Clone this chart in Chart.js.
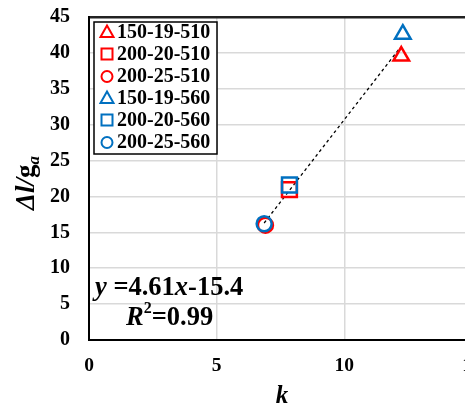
<!DOCTYPE html>
<html>
<head>
<meta charset="utf-8">
<script src="https://cdn.jsdelivr.net/npm/chart.js@4/dist/chart.umd.min.js"></script>
<style>
  html, body { margin: 0; padding: 0; background: #fff; overflow: hidden; }
  #wrap { width: 465px; height: 406px; overflow: hidden; }
  canvas { display: block; }
</style>
</head>
<body>
<div id="wrap"><canvas id="chart" width="485" height="406"></canvas></div>
<script>
// Datos
const seriesNames = ['150-19-510', '200-20-510', '200-25-510', '150-19-560', '200-20-560', '200-25-560'];
const kValues = [12.23, 7.85, 6.91, 12.29, 7.85, 6.86];
const dlValues = [39.55, 20.96, 16.0, 42.6, 21.6, 16.2];
const trendK = [6.86, 12.2];
const trendDl = [16.3, 40.8];
const xTicks = [0, 5, 10, 15];
const yTicks = [0, 5, 10, 15, 20, 25, 30, 35, 40, 45];

const colores = ['#ff0000', '#ff0000', '#ff0000', '#0070c0', '#0070c0', '#0070c0'];
const formas = ['triangle', 'rect', 'circle', 'triangle', 'rect', 'circle'];
const radios = { triangle: 9, rect: 10.5, circle: 7.5 };
const FONT = "'Liberation Serif', 'Times New Roman', serif";

const datasets = seriesNames.map((name, i) => ({
  label: name,
  data: [{ x: kValues[i], y: dlValues[i] }],
  pointStyle: formas[i],
  pointRadius: radios[formas[i]],
  pointBorderWidth: 2.5,
  pointBorderColor: colores[i],
  pointBackgroundColor: 'rgba(0,0,0,0)',
  showLine: false,
  order: i < 3 ? 2 : 1
}));

datasets.push({
  label: 'trend',
  data: trendK.map((k, i) => ({ x: k, y: trendDl[i] })),
  showLine: true,
  borderColor: '#000',
  borderWidth: 1.3,
  borderDash: [3, 3],
  pointRadius: 0,
  order: 3
});

// Leyenda y textos dibujados a mano
const textosPlugin = {
  id: 'textos',
  afterDraw(chart) {
    const ctx = chart.ctx;
    ctx.save();

    // Cuadro de leyenda
    const bx = 94, by = 22, bw = 123, bh = 132;
    ctx.fillStyle = '#fff';
    ctx.fillRect(bx, by, bw, bh);
    ctx.strokeStyle = '#000';
    ctx.lineWidth = 1.5;
    ctx.strokeRect(bx, by, bw, bh);

    seriesNames.forEach((name, i) => {
      const cy = 32 + i * 22;
      const cx = 107;
      ctx.strokeStyle = colores[i];
      ctx.lineWidth = 2;
      ctx.beginPath();
      if (formas[i] === 'triangle') {
        ctx.moveTo(cx, cy - 6.5);
        ctx.lineTo(cx + 6.5, cy + 5);
        ctx.lineTo(cx - 6.5, cy + 5);
        ctx.closePath();
      } else if (formas[i] === 'rect') {
        ctx.rect(cx - 5.5, cy - 5.5, 11, 11);
      } else {
        ctx.arc(cx, cy + 0.5, 5.5, 0, Math.PI * 2);
      }
      ctx.stroke();
      ctx.fillStyle = '#000';
      ctx.font = 'bold 20px ' + FONT;
      ctx.textBaseline = 'middle';
      ctx.textAlign = 'left';
      ctx.fillText(name, 117, cy + 1);
    });

    // Ecuación
    ctx.fillStyle = '#000';
    ctx.textBaseline = 'alphabetic';
    let x = 95;
    const partes = [['y', true], [' =4.61', false], ['x', true], ['-15.4', false]];
    partes.forEach(([t, it]) => {
      ctx.font = (it ? 'italic ' : '') + 'bold 26.5px ' + FONT;
      ctx.fillText(t, x, 295);
      x += ctx.measureText(t).width;
    });
    x = 126;
    ctx.font = 'italic bold 26.5px ' + FONT;
    ctx.fillText('R', x, 325);
    x += ctx.measureText('R').width;
    ctx.font = 'bold 16px ' + FONT;
    ctx.fillText('2', x, 313);
    x += ctx.measureText('2').width;
    ctx.font = 'bold 26.5px ' + FONT;
    ctx.fillText('=0.99', x, 325);

    // Título eje X
    ctx.font = 'italic bold 25px ' + FONT;
    ctx.textAlign = 'center';
    ctx.fillText('k', 282, 403);

    // Título eje Y (rotado)
    ctx.translate(34, 183);
    ctx.rotate(-Math.PI / 2);
    ctx.textAlign = 'left';
    const t1 = 'Δl/';
    ctx.font = 'italic bold 27px ' + FONT;
    const w1 = ctx.measureText(t1).width;
    ctx.font = 'bold 27px ' + FONT;
    const w2 = ctx.measureText('g').width;
    ctx.font = 'italic bold 17px ' + FONT;
    const w3 = ctx.measureText('a').width;
    let px = -(w1 + w2 + w3) / 2;
    ctx.font = 'italic bold 27px ' + FONT;
    ctx.fillText(t1, px, 0);
    px += w1;
    ctx.font = 'bold 27px ' + FONT;
    ctx.fillText('g', px, 0);
    px += w2;
    ctx.font = 'italic bold 17px ' + FONT;
    ctx.fillText('a', px, 5);

    ctx.restore();
  }
};

new Chart(document.getElementById('chart'), {
  type: 'scatter',
  data: { datasets },
  options: {
    responsive: false,
    animation: false,
    layout: { padding: { left: 0, right: 12, top: 17, bottom: 0 } },
    plugins: {
      legend: { display: false },
      tooltip: { enabled: false }
    },
    scales: {
      x: {
        type: 'linear',
        min: 0,
        max: 15,
        afterBuildTicks: scale => { scale.ticks = xTicks.map(v => ({ value: v })); },
        afterFit: scale => { scale.height = 66; },
        grid: { color: '#d9d9d9', lineWidth: 1.5, drawTicks: true, tickLength: 14, tickColor: 'rgba(0,0,0,0)' },
        border: { color: '#000', width: 2 },
        ticks: {
          color: '#000',
          padding: 0,
          font: { family: FONT, size: 19.5, weight: 'bold' }
        }
      },
      y: {
        min: 0,
        max: 45,
        afterBuildTicks: scale => { scale.ticks = yTicks.map(v => ({ value: v })); },
        afterFit: scale => { scale.width = 89; },
        grid: {
          color: c => (c.tick && c.tick.value === 45 ? '#222' : '#d9d9d9'),
          lineWidth: c => (c.tick && c.tick.value === 45 ? 2.5 : 1.5),
          drawTicks: true,
          tickLength: 19,
          tickColor: 'rgba(0,0,0,0)'
        },
        border: { color: '#000', width: 2 },
        ticks: {
          color: '#000',
          padding: 0,
          font: { family: FONT, size: 20, weight: 'bold' }
        }
      }
    }
  },
  plugins: [textosPlugin]
});
</script>
</body>
</html>
